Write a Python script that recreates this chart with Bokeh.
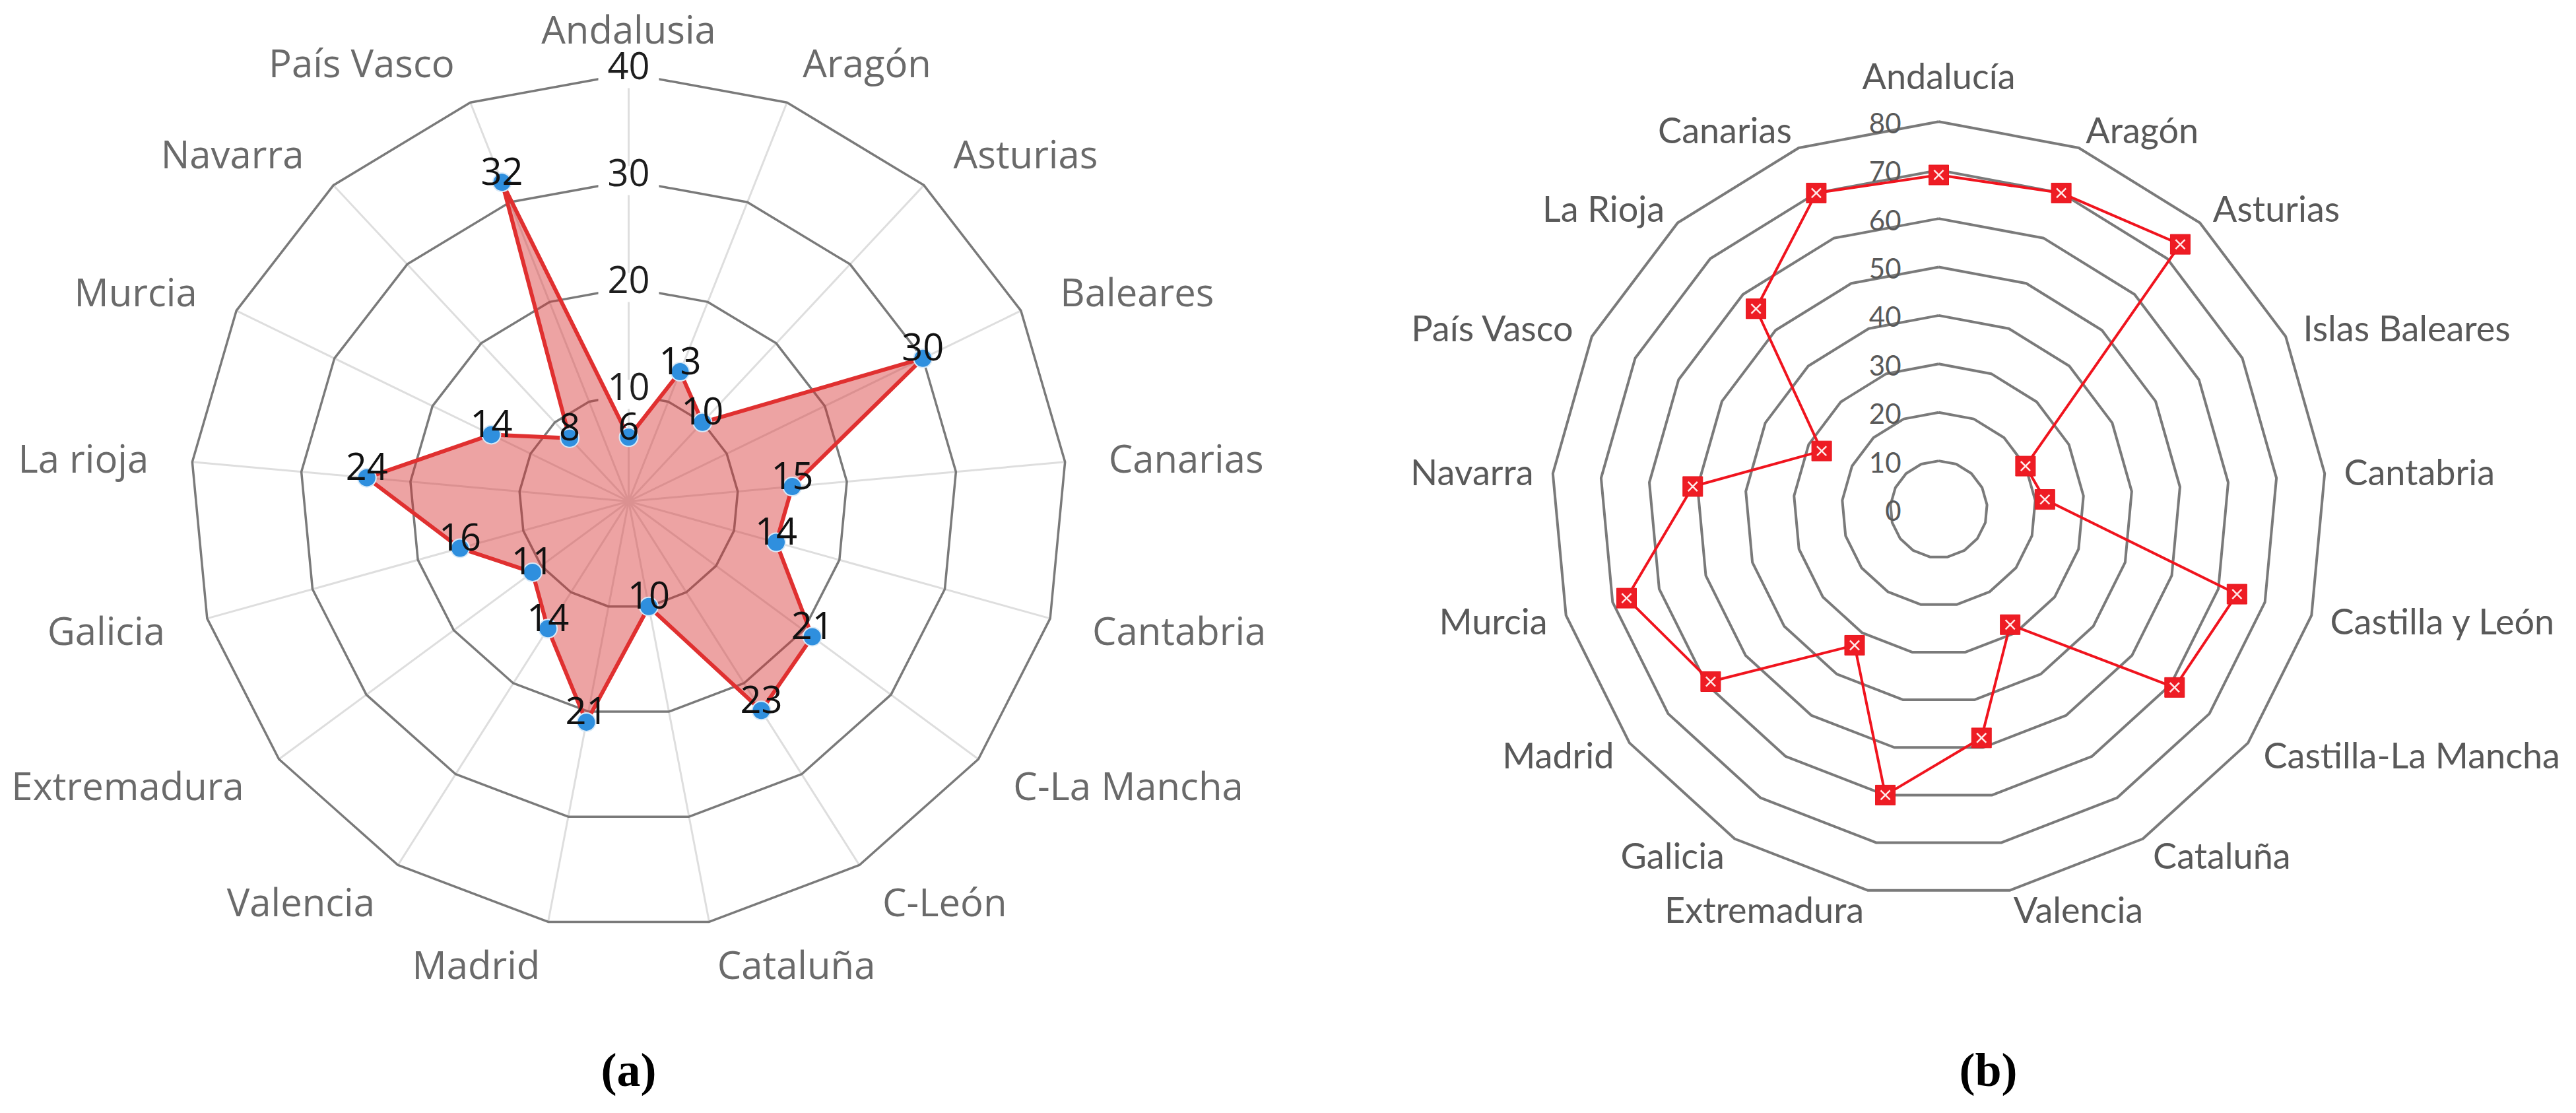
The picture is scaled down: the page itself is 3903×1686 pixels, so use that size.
import numpy as np
from bokeh.plotting import figure
from bokeh.layouts import row
from bokeh.models import Range1d
from bokeh.core.properties import value
from bokeh.embed import file_html
from bokeh.resources import INLINE

# ---------------- data ----------------
cats_a = ["Andalusia", "Aragón", "Asturias", "Baleares", "Canarias", "Cantabria",
          "C-La Mancha", "C-León", "Cataluña", "Madrid", "Valencia", "Extremadura",
          "Galicia", "La rioja", "Murcia", "Navarra", "País Vasco"]
vals_a = [6, 13, 10, 30, 15, 14, 21, 23, 10, 21, 14, 11, 16, 24, 14, 8, 32]
ticks_a = [10, 20, 30, 40]

cats_b = ["Andalucía", "Aragón", "Asturias", "Islas Baleares", "Cantabria",
          "Castilla y León", "Castilla-La Mancha", "Cataluña", "Valencia",
          "Extremadura", "Galicia", "Madrid", "Murcia", "Navarra", "País Vasco",
          "La Rioja", "Canarias"]
vals_b = [69, 70, 74, 20, 22, 64, 61, 28, 48, 60, 33, 59, 67, 51, 27, 56, 70]
ticks_b = [0, 10, 20, 30, 40, 50, 60, 70, 80]

captions = ["(a)", "(b)"]

# ---------------- layout constants ----------------
W_A, W_B, H = 1950, 1935, 1668
# panel a: centre (px in page) and px per unit
CXA, CYA, SXA, SYA = 960, 767, 16.6, 16.2
CXB, CYB, SB = 2945, 779, 7.34


def angles(n):
    return 2 * np.pi * np.arange(n) / n


def polar(r, th):
    r = np.asarray(r, dtype=float)
    return r * np.sin(th), r * np.cos(th)


def closed(a):
    a = list(a)
    return a + a[:1]


def make_fig(w, x0, x1, y0, y1):
    p = figure(width=w, height=H, x_range=Range1d(x0, x1), y_range=Range1d(y0, y1),
               output_backend="svg", toolbar_location=None, min_border=0,
               x_axis_location=None, y_axis_location=None,
               outline_line_color=None, background_fill_color="white",
               border_fill_color="white")
    p.grid.visible = False
    return p


def cat_labels(p, cats, R, font, size, color, top_offset):
    th = angles(len(cats))
    x, y = polar(np.full(len(cats), R), th)
    s = np.sin(th)
    groups = {"center": np.abs(s) < 1e-6, "left": s > 1e-6, "right": s < -1e-6}
    for align, m in groups.items():
        idx = np.where(m)[0]
        if len(idx) == 0:
            continue
        offs = [top_offset if abs(th[i]) < 1e-6 else 0 for i in idx]
        p.text(x=list(x[idx]), y=list(y[idx]), text=[cats[i] for i in idx],
               y_offset=offs, text_align=align, text_baseline="middle",
               text_font=value(font), text_font_size=size, text_color=color)


# ================= panel (a) =================
pa = make_fig(W_A, (8 - CXA) / SXA, (8 + W_A - CXA) / SXA,
              (CYA - 8 - H) / SYA, (CYA - 8) / SYA)
tha = angles(len(cats_a))

# spokes
sx, sy = polar(np.full(len(tha), max(ticks_a)), tha)
pa.multi_line(xs=[[0, a] for a in sx], ys=[[0, b] for b in sy],
              line_color="#dedede", line_width=3)
# rings
rx, ry = [], []
for t in ticks_a:
    x, y = polar(np.full(len(tha), t), tha)
    rx.append(closed(x)); ry.append(closed(y))
pa.multi_line(xs=rx, ys=ry, line_color="#7a7a7a", line_width=3.5)
# ring labels with backdrop
pa.rect(x=[0] * len(ticks_a), y=ticks_a, width=92, height=44,
        width_units="screen", height_units="screen",
        fill_color="white", line_color=None)
pa.text(x=[0] * len(ticks_a), y=ticks_a, text=[str(t) for t in ticks_a],
        y_offset=-12, text_align="center", text_baseline="middle",
        text_font=value("Open Sans"), text_font_size="56px", text_color="#1e1e1e")

# data polygon
xa, ya = polar(vals_a, tha)
pa.patch(x=closed(xa), y=closed(ya), fill_color="#d63434", fill_alpha=0.45,
         line_color=None)
pa.line(x=closed(xa), y=closed(ya), line_color="#e03030", line_width=6,
        line_join="round")
pa.scatter(x=list(xa), y=list(ya), size=28, fill_color="#2f8fde",
           line_color="#d8e9f7", line_width=2)
pa.text(x=list(xa), y=list(ya), text=[str(v) for v in vals_a], y_offset=-17,
        text_align="center", text_baseline="alphabetic",
        text_font=value("Open Sans"), text_font_size="56px", text_color="#111111")

cat_labels(pa, cats_a, 44, "Open Sans", "58px", "#6a6a6a", -3)
pa.text(x=[0], y=[(CYA - 1628) / SYA], text=[captions[0]], text_align="center",
        text_baseline="middle", text_font=value("Liberation Serif"),
        text_font_size="72px", text_font_style="bold", text_color="black")

# ================= panel (b) =================
pb = make_fig(W_B, (8 + W_A - CXB) / SB, (8 + W_A + W_B - CXB) / SB,
              (CYB - 8 - H) / SB, (CYB - 8) / SB)
thb = angles(len(cats_b))
rx, ry = [], []
for t in ticks_b[1:]:
    x, y = polar(np.full(len(thb), t), thb)
    rx.append(closed(x)); ry.append(closed(y))
pb.multi_line(xs=rx, ys=ry, line_color="#7a7a7a", line_width=4)
pb.text(x=[0] * len(ticks_b), y=ticks_b, text=[str(t) for t in ticks_b],
        x_offset=-57, y_offset=2, text_align="right", text_baseline="middle",
        text_font=value("Lato"), text_font_size="42px", text_color="#595959")

xb, yb = polar(vals_b, thb)
pb.line(x=closed(xb), y=closed(yb), line_color="#f0141e", line_width=4)
pb.scatter(x=list(xb), y=list(yb), marker="square", size=30,
           fill_color="#ee1c24", line_color="#e8141c", line_width=1)
pb.scatter(x=list(xb), y=list(yb), marker="x", size=20,
           line_color="#ffe9e9", line_width=2.5)

cat_labels(pb, cats_b, 84, "Lato", "54px", "#595959", -40)
pb.text(x=[(3020 - CXB) / SB], y=[(CYB - 1628) / SB], text=[captions[1]],
        text_align="center", text_baseline="middle",
        text_font=value("Liberation Serif"), text_font_size="72px",
        text_font_style="bold", text_color="black")

layout = row(pa, pb)
open("out.html", "w").write(file_html(layout, INLINE))
